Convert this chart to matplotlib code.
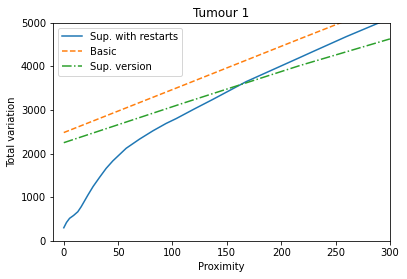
import matplotlib
matplotlib.use("Agg")
import matplotlib.pyplot as plt

# values
restarts_x = [0, 2.5, 5.3, 9, 12.9, 16, 22.2, 27, 33.1, 39, 45.1, 57.4, 69.7, 82,
              94.2, 103.4, 120, 137.1, 167.8, 198.5, 216.9, 229.1, 259.9, 290.5, 300]
restarts_y = [298, 420, 514, 580, 665, 780, 1048, 1245, 1460, 1660, 1830, 2120, 2330, 2520,
              2690, 2800, 3020, 3240, 3647, 3991, 4197, 4335, 4679, 5000, 5105]

basic_x = [0, 107, 217, 300]
basic_y = [2480, 3535, 4626, 5440]

sup_x = [0, 109.5, 216.9, 300]
sup_y = [2248, 3151, 4014, 4626]


def plot_tumour():
    dpi = 72
    fig = plt.figure(figsize=(407 / dpi, 279 / dpi), dpi=dpi)
    ax = fig.add_axes([0.130, 0.137, 0.828, 0.782])

    ax.plot(restarts_x, restarts_y, '-', color='#1f77b4', label='Sup. with restarts')
    ax.plot(basic_x, basic_y, '--', color='#ff7f0e', label='Basic')
    ax.plot(sup_x, sup_y, '-.', color='#2ca02c', label='Sup. version')

    ax.set_xlim(-10, 300)
    ax.set_ylim(0, 5000)
    ax.set_xticks([0, 50, 100, 150, 200, 250, 300])
    ax.set_yticks([0, 1000, 2000, 3000, 4000, 5000])
    ax.set_title('Tumour 1')
    ax.set_xlabel('Proximity')
    ax.set_ylabel('Total variation')
    ax.legend(loc='upper left')

    fig.savefig('out.png', dpi=dpi)


if __name__ == "__main__":
    plot_tumour()
